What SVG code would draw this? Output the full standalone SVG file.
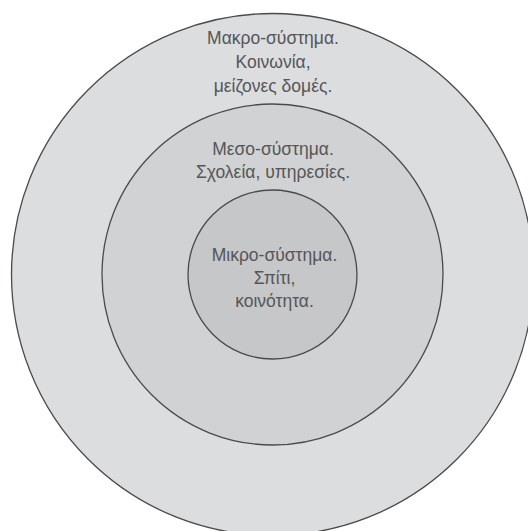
<svg xmlns="http://www.w3.org/2000/svg" width="528" height="531" viewBox="0 0 528 531">
<style>
.ring{stroke:#4a4a4c;stroke-width:1.3}
.t{font-family:"Liberation Sans","DejaVu Sans",sans-serif;font-size:17.5px;fill:#555658;text-anchor:middle}
</style>
<rect width="528" height="531" fill="#ffffff"/>
<g id="macro">
<circle class="ring" cx="272.5" cy="274.5" r="261" fill="#dcdddf"/>
</g>
<g id="meso">
<circle class="ring" cx="272.5" cy="274.5" r="170.5" fill="#d1d2d4"/>
</g>
<g id="micro">
<circle class="ring" cx="272.5" cy="274.5" r="84.5" fill="#c6c7c9"/>
</g>
<g id="labels">
<text class="t" x="273" y="44.3">Μακρο-σύστημα.</text>
<text class="t" x="273" y="68.3">Κοινωνία,</text>
<text class="t" x="273" y="91.7">μείζονες δομές.</text>
<text class="t" x="273" y="155">Μεσο-σύστημα.</text>
<text class="t" x="273" y="178">Σχολεία, υπηρεσίες.</text>
<text class="t" x="274.5" y="260.7">Μικρο-σύστημα.</text>
<text class="t" x="274.5" y="284">Σπίτι,</text>
<text class="t" x="274.5" y="306.7">κοινότητα.</text>
</g>
<g id="connectors"></g>
</svg>
